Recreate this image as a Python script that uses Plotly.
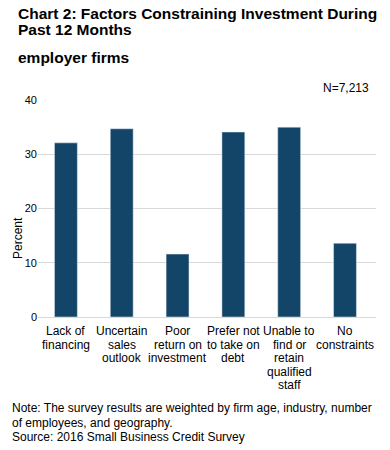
import plotly.graph_objects as go

categories = ["Lack of financing", "Uncertain sales outlook", "Poor return on investment",
              "Prefer not to take on debt", "Unable to find or retain qualified staff",
              "No constraints"]
label_lines = [["Lack of", "financing"], ["Uncertain", "sales", "outlook"],
               ["Poor", "return on", "investment"], ["Prefer not", "to take on", "debt"],
               ["Unable to", "find or", "retain", "qualified", "staff"], ["No", "constraints"]]
values = [32.1, 34.7, 11.6, 34.1, 35.0, 13.6]
y_ticks = [0, 10, 20, 30, 40]

title_lines = ["Chart 2: Factors Constraining Investment During", "Past 12 Months"]
subtitle = "employer firms"
n_label = "N=7,213"
note_lines = ["Note: The survey results are weighted by firm age, industry, number",
              "of employees, and geography.",
              "Source: 2016 Small Business Credit Survey"]

FONT = "Liberation Sans, Arial, sans-serif"
W, H = 390, 450
L, R, T, B = 38, 14, 100, 133


def ann_px(text, px, py, size=12, bold=False, xanchor="left", **kw):
    # place at page pixel position (px = left edge, py = vertical centre)
    return dict(text=f"<b>{text}</b>" if bold else text, xref="paper", yref="paper",
                x=0, y=1, xshift=px - L, yshift=T - py, xanchor=xanchor, yanchor="middle",
                showarrow=False, align="left", font=dict(size=size), **kw)


fig = go.Figure(go.Bar(x=categories, y=values, marker_color="#124567", width=0.41,
                       hoverinfo="skip"))

annotations = []
annotations.append(ann_px(title_lines[0], 16, 13, size=15.5, bold=True))
annotations.append(ann_px(title_lines[1], 16, 29, size=15.5, bold=True))
annotations.append(ann_px(subtitle, 16, 57, size=15.5, bold=True))
annotations.append(dict(text=n_label, xref="paper", yref="paper", x=1, y=1, xshift=371 - (W - R),
                        yshift=T - 88, xanchor="right", yanchor="middle", showarrow=False,
                        font=dict(size=12)))
for i, ln in enumerate(note_lines):
    annotations.append(ann_px(ln, 10, 408 + i * 14.5, size=12))
annotations.append(dict(text="Percent", xref="paper", yref="paper", x=0, y=1, xshift=18 - L,
                        yshift=T - 238, xanchor="center", yanchor="middle", textangle=-90,
                        showarrow=False, font=dict(size=12)))
# category labels, one annotation per line, positioned on the category axis
for cat, lines in zip(categories, label_lines):
    for j, ln in enumerate(lines):
        annotations.append(dict(text=ln, xref="x", yref="paper", x=cat, y=0,
                                yshift=-(14 + j * 13.5), xanchor="center", yanchor="middle",
                                showarrow=False, font=dict(size=12)))

fig.update_layout(
    width=W, height=H,
    margin=dict(l=L, r=R, t=T, b=B),
    paper_bgcolor="white", plot_bgcolor="white",
    font=dict(family=FONT, size=12, color="#000"),
    showlegend=False,
    xaxis=dict(showgrid=False, showline=False, ticks="", showticklabels=False),
    yaxis=dict(range=[0, 40], tickvals=y_ticks, showgrid=True, gridcolor="#d9d9d9", gridwidth=1,
               zeroline=True, zerolinecolor="#d9d9d9", zerolinewidth=1,
               ticks="", tickfont=dict(size=11)),
    annotations=annotations,
)

fig.write_html("out.html", config={"displayModeBar": False},
               post_script="document.body.style.margin='0';")
